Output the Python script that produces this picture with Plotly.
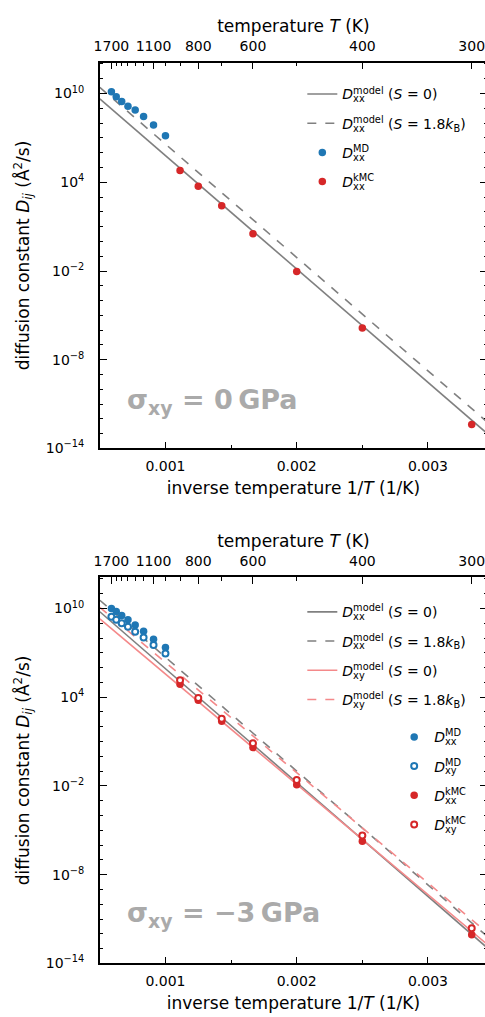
import plotly.graph_objects as go

W, H = 489, 1017
PLOT_RIGHT = 487  # right spine sits just outside the 485 px window, as in the reference

# ---------------- data ----------------
T_md = [1700, 1600, 1500, 1400, 1300, 1200, 1100, 1000]
T_kmc = [900, 800, 700, 600, 500, 400, 300]
invT_md = [1.0 / t for t in T_md]
invT_kmc = [1.0 / t for t in T_kmc]

# top panel: sigma_xy = 0 GPa
top_Dxx_md = [1.3e10, 6.0e9, 2.9e9, 1.4e9, 7.6e8, 2.8e8, 7.4e7, 1.4e7]
top_Dxx_kmc = [6.3e4, 5.4e3, 2.6e2, 3.3e0, 9.3e-3, 1.4e-6, 4.1e-13]

# bottom panel: sigma_xy = -3 GPa
bot_Dxx_md = [1.0e10, 6.3e9, 3.4e9, 1.7e9, 7.6e8, 2.9e8, 8.3e7, 2.3e7]
bot_Dxy_md = [2.8e9, 1.7e9, 1.0e9, 5.8e8, 2.7e8, 1.1e8, 3.4e7, 8.9e6]
bot_Dxx_kmc = [7.4e4, 6.2e3, 2.4e2, 3.9e0, 1.2e-2, 1.8e-6, 8.5e-13]
bot_Dxy_kmc = [1.4e5, 8.9e3, 3.5e2, 7.6e0, 2.5e-2, 4.5e-6, 2.4e-12]

# model lines (Arrhenius: straight in log-D vs 1/T), end points
model_invT = [0.0005, 0.00345]
top_xx_S0 = [4.3e9, 1.05e-13]
top_xx_S18 = [2.6e10, 6.3e-13]
bot_xx_S0 = [6.0e9, 1.15e-13]
bot_xx_S18 = [3.6e10, 6.9e-13]
bot_xy_S0 = [1.95e9, 2.0e-13]
bot_xy_S18 = [1.2e10, 1.2e-12]

# axis ticks
x_ticks = [0.001, 0.002, 0.003]
x_ticktext = ["0.001", "0.002", "0.003"]
x_minor = [0.0015, 0.0025]
T_major = [1700, 1100, 800, 600, 400, 300]
T_minor = [1600, 1500, 1400, 1300, 1200, 1000, 900, 700, 500]
y_major = [1e-14, 1e-8, 1e-2, 1e4, 1e10]
y_ticktext = ["10<sup>−14</sup>", "10<sup>−8</sup>", "10<sup>−2</sup>",
              "10<sup>4</sup>", "10<sup>10</sup>"]
y_minor = [10.0 ** e for e in range(-13, 13) if e % 6 != 4 and e != -14]

# ---------------- style ----------------
FONT = "DejaVu Sans"
BLUE = "#1f77b4"
RED = "#d62728"
GRAY = "#808080"
PINK = "#f4898a"
LABEL_GRAY = "#aaaaaa"
XMIN, XMAX = 0.0005, 0.00345

SHIFT = "letter-spacing:-11.6px"


def dlabel(sub, sup, tail=""):
    return ("<i>D</i><sub>%s<span style='%s'>%s</span></sub><sup>%s</sup>%s"
            % (sub[0], SHIFT, sub[1], sup, tail))


S0 = " (<i>S</i> = 0)"
S18 = " (<i>S</i> = 1.8<i>k</i><sub>B</sub>)"

fig = go.Figure()
_grp = [0]


def _g():
    _grp[0] += 1
    return "g%d" % _grp[0]


def line(y, color, dash, name, xa, ya, leg):
    fig.add_trace(go.Scatter(x=model_invT, y=y, mode="lines",
                             line=dict(color=color, width=1.6, dash=dash),
                             name=name, xaxis=xa, yaxis=ya, legend=leg,
                             legendgroup=_g()))


def pts(x, y, color, open_, name, xa, ya, leg):
    if open_:
        marker = dict(symbol="circle", size=6, color="white",
                      line=dict(color=color, width=2))
    else:
        marker = dict(symbol="circle", size=7.5, color=color,
                      line=dict(width=0))
    fig.add_trace(go.Scatter(x=x, y=y, mode="markers", marker=marker,
                             name=name, xaxis=xa, yaxis=ya, legend=leg,
                             legendgroup=_g()))


# top panel
line(top_xx_S0, GRAY, "solid", dlabel("xx", "model", S0), "x", "y", "legend")
line(top_xx_S18, GRAY, "dash", dlabel("xx", "model", S18), "x", "y", "legend")
pts(invT_md, top_Dxx_md, BLUE, False, dlabel("xx", "MD"), "x", "y", "legend")
pts(invT_kmc, top_Dxx_kmc, RED, False, dlabel("xx", "kMC"), "x", "y", "legend")

# bottom panel
line(bot_xx_S0, GRAY, "solid", dlabel("xx", "model", S0), "x3", "y2", "legend2")
line(bot_xx_S18, GRAY, "dash", dlabel("xx", "model", S18), "x3", "y2", "legend2")
line(bot_xy_S0, PINK, "solid", dlabel("xy", "model", S0), "x3", "y2", "legend2")
line(bot_xy_S18, PINK, "dash", dlabel("xy", "model", S18), "x3", "y2", "legend2")
pts(invT_md, bot_Dxx_md, BLUE, False, dlabel("xx", "MD"), "x3", "y2", "legend3")
pts(invT_md, bot_Dxy_md, BLUE, True, dlabel("xy", "MD"), "x3", "y2", "legend3")
pts(invT_kmc, bot_Dxx_kmc, RED, False, dlabel("xx", "kMC"), "x3", "y2", "legend3")
pts(invT_kmc, bot_Dxy_kmc, RED, True, dlabel("xy", "kMC"), "x3", "y2", "legend3")

# dummy traces so the temperature axes render
for xa, ya in (("x2", "y"), ("x4", "y2")):
    fig.add_trace(go.Scatter(x=[None], y=[None], xaxis=xa, yaxis=ya,
                             showlegend=False, hoverinfo="skip"))

xdom = [95 / W, PLOT_RIGHT / W]
top_dom = [1 - 452 / H, 1 - 63 / H]
bot_dom = [1 - 971 / H, 1 - 582 / H]


def xaxis_bottom(anchor):
    return dict(domain=xdom, anchor=anchor, range=[XMIN, XMAX],
                tickmode="array", tickvals=x_ticks, ticktext=x_ticktext,
                ticks="inside", ticklen=6.5, tickwidth=1.2, tickcolor="black",
                showline=True, linewidth=1.5, linecolor="black",
                showgrid=False, zeroline=False, tickfont=dict(size=14),
                ticklabelstandoff=4,
                minor=dict(tickmode="array", tickvals=x_minor, ticks="inside",
                           ticklen=3.5, tickwidth=1, tickcolor="black",
                           showgrid=False),
                title=dict(text="inverse temperature 1/<i>T</i> (1/K)",
                           font=dict(size=17), standoff=9))


def xaxis_top(over, anchor):
    return dict(overlaying=over, anchor=anchor, side="top",
                range=[XMIN, XMAX], tickmode="array",
                tickvals=[1.0 / t for t in T_major],
                ticktext=[str(t) for t in T_major],
                ticks="inside", ticklen=6.5, tickwidth=1.2, tickcolor="black",
                showline=True, linewidth=1.5, linecolor="black",
                showgrid=False, zeroline=False, tickfont=dict(size=14),
                ticklabelstandoff=4,
                minor=dict(tickmode="array", tickvals=[1.0 / t for t in T_minor],
                           ticks="inside", ticklen=3.5, tickwidth=1,
                           tickcolor="black", showgrid=False),
                title=dict(text="temperature <i>T</i> (K)",
                           font=dict(size=17), standoff=1))


def yaxis(domain, anchor):
    return dict(type="log", domain=domain, anchor=anchor, range=[-14, 12.1],
                tickmode="array", tickvals=y_major, ticktext=y_ticktext,
                ticks="inside", ticklen=7, tickwidth=1.2, tickcolor="black",
                showline=True, linewidth=1.5, linecolor="black", mirror="ticks",
                showgrid=False, zeroline=False, tickfont=dict(size=14),
                ticklabelstandoff=11,
                minor=dict(tickmode="array", tickvals=y_minor, ticks="inside",
                           ticklen=3.5, tickwidth=1, tickcolor="black",
                           showgrid=False),
                title=dict(text="diffusion constant <i>D<sub>ij</sub></i> (Å<sup>2</sup>/s)",
                           font=dict(size=17), standoff=12))


def legend(x, y):
    return dict(x=x, y=y, xanchor="left", yanchor="top",
                bgcolor="rgba(0,0,0,0)", borderwidth=0,
                font=dict(size=14, family=FONT, color="black"),
                itemsizing="trace", traceorder="grouped", tracegroupgap=8)


fig.update_layout(
    width=W, height=H, margin=dict(l=0, r=0, t=0, b=0),
    paper_bgcolor="white", plot_bgcolor="white",
    font=dict(family=FONT, size=14, color="black"),
    xaxis=xaxis_bottom("y"), xaxis2=xaxis_top("x", "y"),
    xaxis3=xaxis_bottom("y2"), xaxis4=xaxis_top("x3", "y2"),
    yaxis=yaxis(top_dom, "x"), yaxis2=yaxis(bot_dom, "x3"),
    legend=legend(300 / W, 1 - 79 / H),
    legend2=legend(300 / W, 1 - 601 / H),
    legend3=legend(393 / W, 1 - 727 / H),
    showlegend=True,
)

fig.add_annotation(text="<b>σ<sub>xy</sub> = 0\u2009GPa</b>", xref="paper", yref="paper",
                   x=120 / W, y=1 - 405 / H, xanchor="left", yanchor="middle",
                   showarrow=False, font=dict(size=27, color=LABEL_GRAY, family=FONT))
fig.add_annotation(text="<b>σ<sub>xy</sub> = −3\u2009GPa</b>", xref="paper", yref="paper",
                   x=120 / W, y=1 - 922 / H, xanchor="left", yanchor="middle",
                   showarrow=False, font=dict(size=27, color=LABEL_GRAY, family=FONT))

fig.write_html("out.html", config=dict(displayModeBar=False),
               post_script="document.body.style.margin='0';document.body.style.overflow='hidden';")
